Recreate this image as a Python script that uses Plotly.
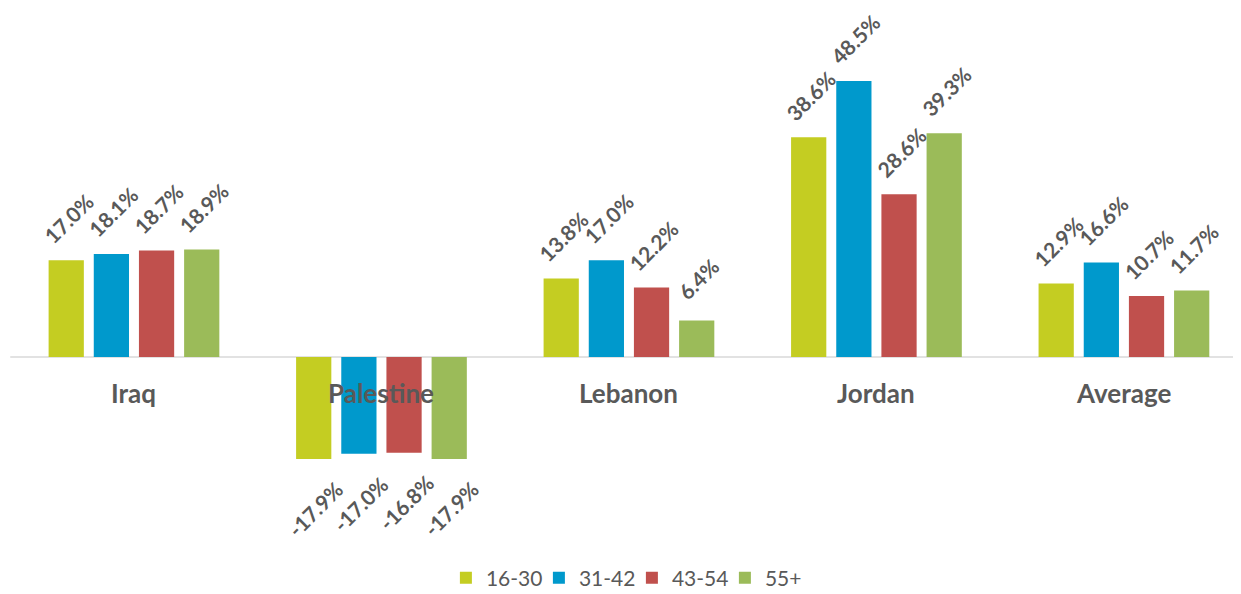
import plotly.graph_objects as go

categories = ["Iraq", "Palestine", "Lebanon", "Jordan", "Average"]
series_names = ["16-30", "31-42", "43-54", "55+"]
v_16_30 = [17.0, -17.9, 13.8, 38.6, 12.9]
v_31_42 = [18.1, -17.0, 17.0, 48.5, 16.6]
v_43_54 = [18.7, -16.8, 12.2, 28.6, 10.7]
v_55p = [18.9, -17.9, 6.4, 39.3, 11.7]
series_values = [v_16_30, v_31_42, v_43_54, v_55p]
colors = ["#C4CD22", "#0099CC", "#C0504D", "#9BBB59"]

FONT = "Lato, Carlito, Calibri, 'Open Sans', sans-serif"
GRAY = "#595959"
BARGAP = 0.27

fig = go.Figure()
for name, vals, col in zip(series_names, series_values, colors):
    fig.add_trace(go.Bar(
        x=list(range(len(categories))), y=vals, name=name,
        marker=dict(color=col, line=dict(width=0)),
    ))

slot = (1 - BARGAP) / len(series_names)
annotations = []
for si, vals in enumerate(series_values):
    off = (si - (len(series_names) - 1) / 2) * slot
    for ci, v in enumerate(vals):
        annotations.append(dict(
            x=ci + off, y=v, xref="x", yref="y",
            text=f"{v:.1f}%", showarrow=False, textangle=-45, borderpad=0,
            xshift=2, yshift=42 if v >= 0 else -50,
            font=dict(family=FONT, size=21, color=GRAY, weight="bold"),
        ))
for ci, c in enumerate(categories):
    annotations.append(dict(
        x=ci, y=0, xref="x", yref="y", text=c, showarrow=False,
        yshift=-36, font=dict(family=FONT, size=26, color=GRAY, weight="bold"),
    ))

fig.add_shape(type="line", xref="x", yref="y", x0=-0.5, x1=4.6, y0=0, y1=0,
              line=dict(color="#D9D9D9", width=1.5), layer="below")

fig.update_layout(
    width=1233, height=586,
    margin=dict(l=0, r=0, t=12, b=52, autoexpand=False),
    paper_bgcolor="white", plot_bgcolor="white",
    barmode="group", bargap=BARGAP, bargroupgap=0.22,
    xaxis=dict(range=[-0.509, 4.473], showticklabels=False, showgrid=False,
               zeroline=False, showline=False),
    yaxis=dict(range=[-32.5, 59.2], showticklabels=False, showgrid=False,
               zeroline=False, showline=False),
    annotations=annotations,
    showlegend=True,
    legend=dict(orientation="h", x=0.506, xanchor="center", y=-0.069, yanchor="middle",
                font=dict(family=FONT, size=21, color=GRAY),
                entrywidth=48, entrywidthmode="pixels", traceorder="normal"),
)

fig.write_html("out.html")
